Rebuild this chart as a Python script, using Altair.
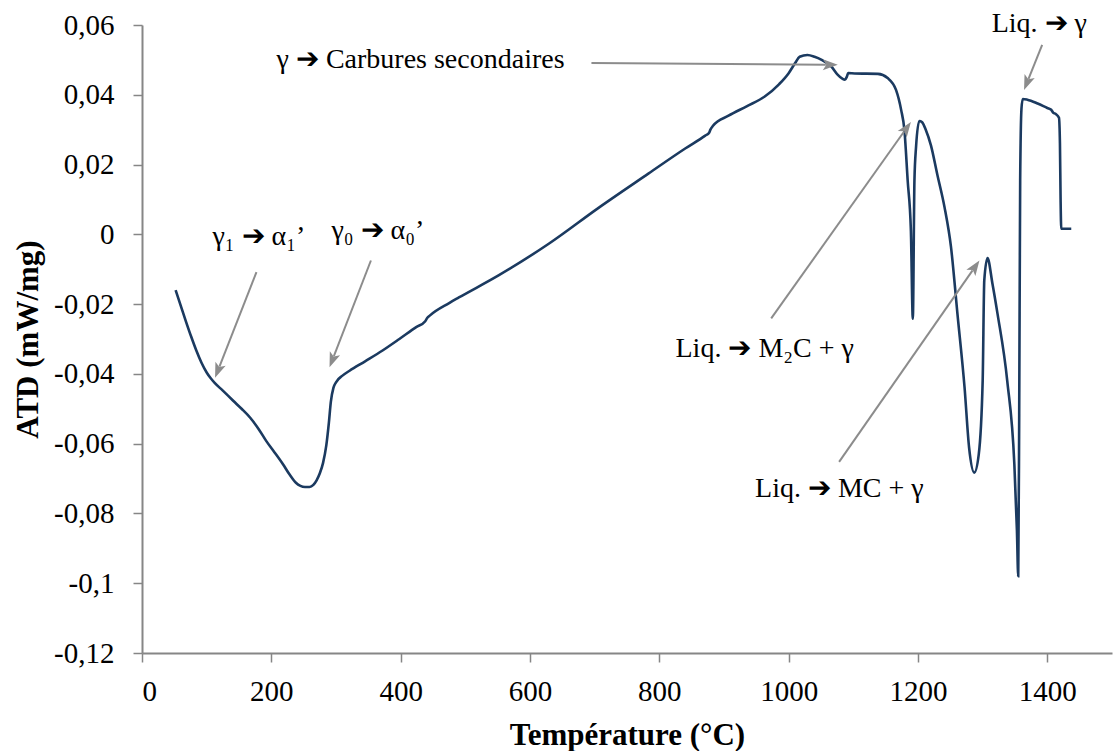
import math
import altair as alt
import pandas as pd

# ---------------- data ----------------
temperature = [52, 60, 68, 76, 84, 92, 100, 106, 112, 125, 141, 154, 167, 180, 192, 205,
               218, 228, 238, 245, 252, 259, 265, 270, 275, 280, 285, 289, 292, 296, 300,
               310, 321, 345, 372, 398, 424, 438, 441, 445, 475, 490, 552, 629, 706, 783,
               840, 871, 877, 879, 883, 907, 935, 963, 985, 1000, 1010, 1017, 1029, 1040,
               1051, 1066, 1076, 1083, 1087, 1090, 1092, 1102, 1138, 1153, 1166, 1174, 1179,
               1184, 1189, 1192, 1194.5, 1197, 1202, 1206, 1212, 1220, 1230, 1241, 1251,
               1261, 1272, 1279, 1287, 1294, 1300, 1302.5, 1307.5, 1315, 1323, 1338, 1349,
               1353, 1355, 1356.5, 1358, 1360, 1362, 1369, 1385, 1400, 1406, 1409, 1413,
               1418, 1419.5, 1420.5, 1421.5, 1437]
atd = [-0.0160, -0.0205, -0.0250, -0.0293, -0.0333, -0.0368, -0.0396, -0.0412, -0.0425,
       -0.0448, -0.0477, -0.0500, -0.0525, -0.0557, -0.0592, -0.0625, -0.0659, -0.0688,
       -0.0712, -0.0721, -0.0724, -0.0724, -0.0718, -0.0705, -0.0685, -0.0655, -0.0605,
       -0.0540, -0.0480, -0.0440, -0.0424, -0.0405, -0.0391, -0.0364, -0.0333, -0.0300,
       -0.0266, -0.0249, -0.0240, -0.0233, -0.0197, -0.0181, -0.0117, -0.0027, 0.0076,
       0.0174, 0.0246, 0.0283, 0.0291, 0.0300, 0.0311, 0.0340, 0.0367, 0.0395, 0.0430,
       0.0462, 0.0491, 0.0509, 0.0514, 0.0509, 0.0500, 0.0481, 0.0457, 0.0446, 0.0443,
       0.0452, 0.0462, 0.0461, 0.0460, 0.0448, 0.0414, 0.0356, 0.0299, 0.0155, 0.0011,
       -0.0242, 0.0155, 0.0251, 0.0325, 0.0322, 0.0300, 0.0255, 0.0170, 0.0078, -0.0036,
       -0.0228, -0.0439, -0.0611, -0.0683, -0.0630, -0.0420, -0.0132, -0.0068, -0.0140,
       -0.0228, -0.0420, -0.0659, -0.0850, -0.0980, -0.0515, 0.0155, 0.0360, 0.0388,
       0.0386, 0.0375, 0.0362, 0.0357, 0.0349, 0.0345, 0.0334, 0.0260, 0.0100, 0.0016,
       0.0016]

x_ticks = [0, 200, 400, 600, 800, 1000, 1200, 1400]
y_ticks = [-0.12, -0.10, -0.08, -0.06, -0.04, -0.02, 0.0, 0.02, 0.04, 0.06]

label_text = ["γ₁ ➔ α₁’", "γ₀ ➔ α₀’", "γ ➔ Carbures secondaires",
              "Liq. ➔ M₂C + γ", "Liq. ➔ MC + γ", "Liq. ➔ γ"]
label_x = [109, 293, 208, 825, 948, 1314]
label_y = [-0.0032, -0.0012, 0.0476, -0.0353, -0.0754, 0.0579]

arrow_x_start = [177, 354, 695, 973, 1078, 1392]
arrow_y_start = [-0.0108, -0.0075, 0.0491, -0.0241, -0.0652, 0.0543]
arrow_x_tip = [113, 290, 1076, 1189, 1295, 1364]
arrow_y_tip = [-0.0411, -0.0381, 0.0486, 0.0322, -0.0075, 0.0414]

# ---------------- layout ----------------
W, H = 970, 628
X_DOMAIN = [0, 1500]
Y_DOMAIN = [-0.12, 0.06]
SX = W / (X_DOMAIN[1] - X_DOMAIN[0])
SY = H / (Y_DOMAIN[1] - Y_DOMAIN[0])

FONT = "Liberation Serif"
GREY_AX = "#868686"
GREY_ARROW = "#8c8c8c"
NAVY = "#1b3a60"
HEAD_LEN = 15

curve = pd.DataFrame({"T": temperature, "ATD": atd})
labels = pd.DataFrame({"T": label_x, "ATD": label_y, "txt": label_text})

rows = []
for x0, y0, x1, y1 in zip(arrow_x_start, arrow_y_start, arrow_x_tip, arrow_y_tip):
    dx = (x1 - x0) * SX
    dy = -(y1 - y0) * SY  # screen direction (down positive)
    L = math.hypot(dx, dy)
    ux, uy = dx / L, dy / L
    back = HEAD_LEN - 3
    ex = x1 - ux * back / SX
    ey = y1 + uy * back / SY
    ang = math.degrees(math.atan2(dx, -dy)) % 360
    rows.append({"T": x0, "ATD": y0, "T2": ex, "ATD2": ey,
                 "tipT": x1, "tipA": y1, "angle": ang})
arrows = pd.DataFrame(rows)

x_scale = alt.Scale(domain=X_DOMAIN, nice=False, zero=False)
y_scale = alt.Scale(domain=Y_DOMAIN, nice=False, zero=False)

x_axis = alt.Axis(values=x_ticks, title="Température (°C)", grid=False,
                  labelExpr="toString(datum.value)",
                  labelFont=FONT, labelFontSize=29, labelColor="black",
                  labelPadding=15, tickSize=9, tickColor=GREY_AX, tickWidth=1.5,
                  domainColor=GREY_AX, domainWidth=2,
                  titleFont=FONT, titleFontSize=31, titleFontWeight="bold",
                  titleColor="black", titleBaseline="alphabetic", titleY=91)
y_axis = alt.Axis(values=y_ticks, title="ATD (mW/mg)", grid=False,
                  labelExpr="replace(toString(datum.value), '.', ',')",
                  labelFont=FONT, labelFontSize=29, labelColor="black",
                  labelPadding=19, tickSize=9, tickColor=GREY_AX, tickWidth=1.5,
                  domainColor=GREY_AX, domainWidth=2,
                  titleFont=FONT, titleFontSize=31, titleFontWeight="bold",
                  titleColor="black", titleBaseline="alphabetic", titleX=-105)

line = alt.Chart(curve).mark_line(color=NAVY, strokeWidth=2.6, interpolate="monotone").encode(
    x=alt.X("T:Q", scale=x_scale, axis=x_axis),
    y=alt.Y("ATD:Q", scale=y_scale, axis=y_axis),
)

rules = alt.Chart(arrows).mark_rule(color=GREY_ARROW, strokeWidth=2).encode(
    x=alt.X("T:Q", scale=x_scale, axis=x_axis),
    y=alt.Y("ATD:Q", scale=y_scale, axis=y_axis),
    x2="T2:Q", y2="ATD2:Q",
)

ARROW_SHAPE = "M0,0L-0.55,1.5L0,1.15L0.55,1.5Z"
heads = alt.Chart(arrows).mark_point(shape=ARROW_SHAPE, filled=True, size=400,
                                     color=GREY_ARROW, opacity=1, strokeWidth=0).encode(
    x=alt.X("tipT:Q", scale=x_scale, axis=x_axis),
    y=alt.Y("tipA:Q", scale=y_scale, axis=y_axis),
    angle=alt.Angle("angle:Q", scale=None),
)

texts = alt.Chart(labels).mark_text(align="left", baseline="alphabetic", font=FONT,
                                    fontSize=28, color="black").encode(
    x=alt.X("T:Q", scale=x_scale, axis=x_axis),
    y=alt.Y("ATD:Q", scale=y_scale, axis=y_axis),
    text="txt:N",
)

chart = alt.layer(line, rules, heads, texts).properties(
    width=W, height=H,
    padding={"left": 142, "top": 25, "right": 4, "bottom": 98},
    autosize=alt.AutoSizeParams(type="none"),
    background="white",
).configure_view(stroke=None)

chart.save("out.html", embed_options={"renderer": "svg", "actions": False})
